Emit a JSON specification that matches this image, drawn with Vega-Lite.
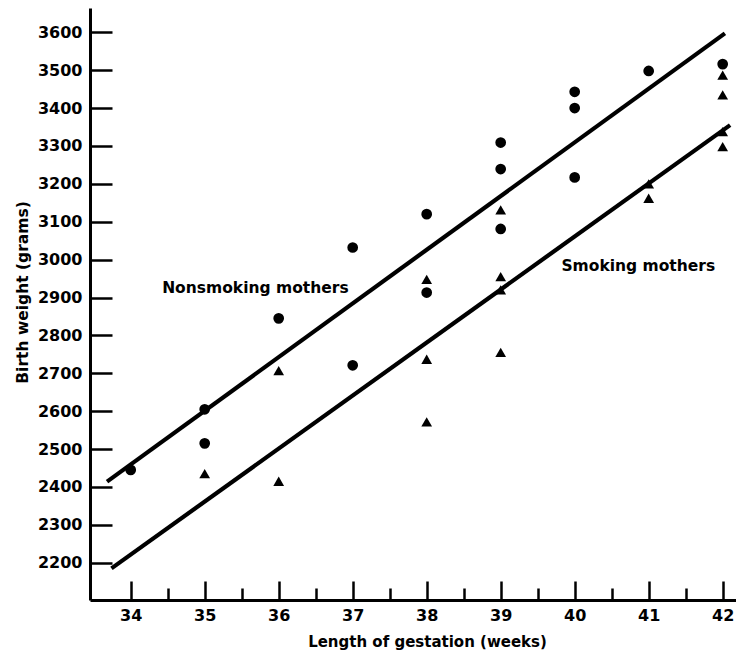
{
  "$schema": "https://vega.github.io/schema/vega-lite/v6.json",
  "width": 646,
  "height": 592,
  "autosize": {"type": "none"},
  "padding": {"left": 90, "top": 8, "right": 0, "bottom": 50},
  "background": "white",
  "config": {
    "view": {"stroke": null},
    "font": "DejaVu Sans",
    "axis": {
      "grid": false,
      "domainColor": "#000",
      "tickColor": "#000",
      "labelColor": "#000",
      "titleColor": "#000",
      "labelFont": "DejaVu Sans",
      "titleFont": "DejaVu Sans",
      "labelFontWeight": "bold",
      "titleFontWeight": "bold",
      "labelFontSize": 16,
      "domainWidth": 3,
      "tickWidth": 2.5
    }
  },
  "datasets": {
    "fits": [
      {"group": "Nonsmoking", "week": 33.68, "weight": 2414},
      {"group": "Nonsmoking", "week": 42.03, "weight": 3597},
      {"group": "Smoking", "week": 33.74, "weight": 2185},
      {"group": "Smoking", "week": 42.1, "weight": 3355}
    ],
    "births": [
      {"group": "Nonsmoking", "week": 34, "weight": 2445},
      {"group": "Nonsmoking", "week": 35, "weight": 2605},
      {"group": "Nonsmoking", "week": 35, "weight": 2515},
      {"group": "Nonsmoking", "week": 36, "weight": 2845},
      {"group": "Nonsmoking", "week": 37, "weight": 3032},
      {"group": "Nonsmoking", "week": 37, "weight": 2721},
      {"group": "Nonsmoking", "week": 38, "weight": 3120},
      {"group": "Nonsmoking", "week": 38, "weight": 2913},
      {"group": "Nonsmoking", "week": 39, "weight": 3309},
      {"group": "Nonsmoking", "week": 39, "weight": 3239},
      {"group": "Nonsmoking", "week": 39, "weight": 3081},
      {"group": "Nonsmoking", "week": 40, "weight": 3443},
      {"group": "Nonsmoking", "week": 40, "weight": 3400},
      {"group": "Nonsmoking", "week": 40, "weight": 3217},
      {"group": "Nonsmoking", "week": 41, "weight": 3498},
      {"group": "Nonsmoking", "week": 42, "weight": 3516},
      {"group": "Smoking", "week": 35, "weight": 2435},
      {"group": "Smoking", "week": 36, "weight": 2707},
      {"group": "Smoking", "week": 36, "weight": 2415},
      {"group": "Smoking", "week": 38, "weight": 2948},
      {"group": "Smoking", "week": 38, "weight": 2737},
      {"group": "Smoking", "week": 38, "weight": 2572},
      {"group": "Smoking", "week": 39, "weight": 3131},
      {"group": "Smoking", "week": 39, "weight": 2955},
      {"group": "Smoking", "week": 39, "weight": 2920},
      {"group": "Smoking", "week": 39, "weight": 2755},
      {"group": "Smoking", "week": 41, "weight": 3200},
      {"group": "Smoking", "week": 41, "weight": 3162},
      {"group": "Smoking", "week": 42, "weight": 3487},
      {"group": "Smoking", "week": 42, "weight": 3435},
      {"group": "Smoking", "week": 42, "weight": 3338},
      {"group": "Smoking", "week": 42, "weight": 3298}
    ],
    "labels": [
      {"label": "Nonsmoking mothers", "week": 35.685, "weight": 2911},
      {"label": "Smoking mothers", "week": 40.86, "weight": 2971}
    ]
  },
  "resolve": {"axis": {"x": "independent"}},
  "layer": [
    {
      "data": {"name": "fits"},
      "mark": {"type": "line", "color": "#000", "strokeWidth": 4.2, "strokeCap": "butt"},
      "encoding": {
        "x": {
          "field": "week",
          "type": "quantitative",
          "scale": {"domain": [33.45, 42.18], "nice": false, "zero": false},
          "axis": {
            "orient": "bottom",
            "values": [34, 35, 36, 37, 38, 39, 40, 41, 42],
            "format": "d",
            "tickSize": -19,
            "labelPadding": 26,
            "labelBaseline": "top",
            "title": "Length of gestation (weeks)",
            "titleFontSize": 15,
            "titleX": 337,
            "titleY": 46,
            "titleAlign": "center",
            "titleBaseline": "alphabetic",
            "titleAnchor": null
          }
        },
        "y": {
          "field": "weight",
          "type": "quantitative",
          "scale": {"domain": [2101.6, 3664.1], "nice": false, "zero": false},
          "axis": {
            "values": [2200, 2300, 2400, 2500, 2600, 2700, 2800, 2900, 3000, 3100, 3200, 3300, 3400, 3500, 3600],
            "format": "d",
            "tickSize": -22,
            "labelPadding": 30,
            "labelAlign": "right",
            "labelBaseline": "middle",
            "title": "Birth weight (grams)",
            "titleFontSize": 15.5,
            "titleAngle": -90,
            "titleX": -63,
            "titleY": 284,
            "titleAlign": "center",
            "titleBaseline": "alphabetic",
            "titleAnchor": null
          }
        },
        "detail": {"field": "group"}
      }
    },
    {
      "data": {"name": "births"},
      "mark": {"type": "point", "filled": true, "color": "#000", "opacity": 1, "size": 115},
      "encoding": {
        "x": {
          "field": "week",
          "type": "quantitative",
          "axis": {
            "orient": "bottom",
            "values": [34.5, 35.5, 36.5, 37.5, 38.5, 39.5, 40.5, 41.5],
            "tickSize": -12,
            "labels": false,
            "domain": false,
            "title": null
          }
        },
        "y": {"field": "weight", "type": "quantitative"},
        "shape": {
          "field": "group",
          "type": "nominal",
          "scale": {"domain": ["Nonsmoking", "Smoking"], "range": ["circle", "triangle-up"]},
          "legend": null
        }
      }
    },
    {
      "data": {"name": "labels"},
      "mark": {
        "type": "text",
        "color": "#000",
        "font": "DejaVu Sans",
        "fontWeight": "bold",
        "fontSize": 15.5,
        "align": "center",
        "baseline": "alphabetic"
      },
      "encoding": {
        "x": {"field": "week", "type": "quantitative", "axis": null},
        "y": {"field": "weight", "type": "quantitative"},
        "text": {"field": "label"}
      }
    }
  ]
}
